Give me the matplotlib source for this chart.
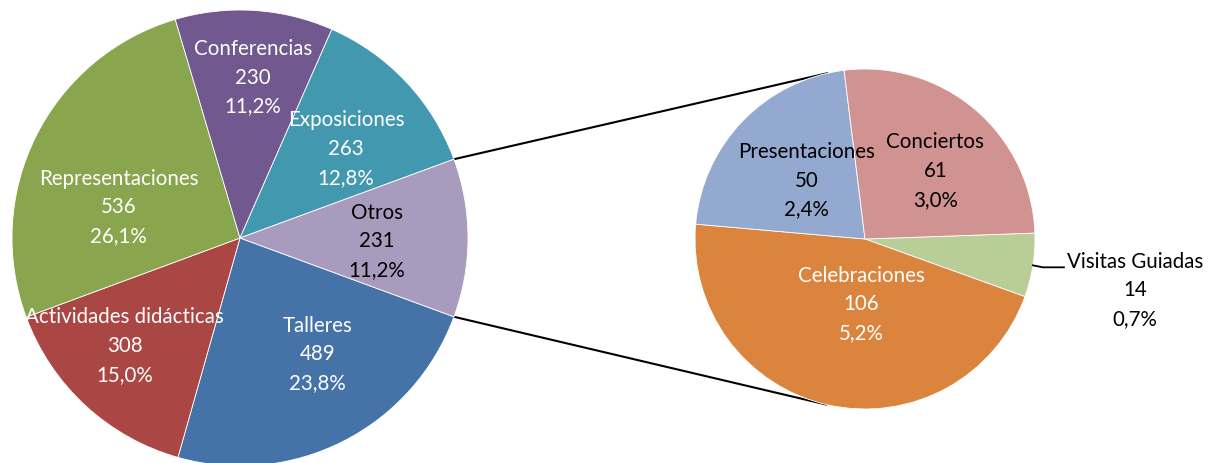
import numpy as np
import matplotlib.pyplot as plt

plt.rcParams['font.family'] = ['Lato', 'DejaVu Sans']

# main pie (clockwise, starting just below "Otros")
main_labels = ['Talleres', 'Actividades didácticas', 'Representaciones',
               'Conferencias', 'Exposiciones', 'Otros']
main_values = [489, 308, 536, 230, 263, 231]
main_colors = ['#4572A7', '#AA4643', '#89A54E', '#71588F', '#4198AF', '#A99BBD']
main_txt = ['white', 'white', 'white', 'white', 'white', 'black']

# breakdown of "Otros"
sub_labels = ['Visitas Guiadas', 'Celebraciones', 'Presentaciones', 'Conciertos']
sub_values = [14, 106, 50, 61]
sub_colors = ['#B9CD96', '#DB843D', '#93A9CF', '#D19392']
sub_txt = ['black', 'white', 'black', 'black']

total = sum(main_values)

# label placement: (radius fraction, angle shift in degrees)
main_lpos = [(0.61, 7), (0.69, -4.5), (0.55, 12), (0.71, -1), (0.61, -3), (0.60, -1)]
sub_lpos = [(None, 0), (0.38, 9), (0.49, -1.5), (0.58, -5)]

c1, r1 = (240, 225), 228
c2, r2 = (865, 224), 170
FS, LS = 14.8, 1.55

fig = plt.figure(figsize=(12.08, 4.64), dpi=100)
ax = fig.add_axes([0, 0, 1, 1])

half = 0.5 * 360.0 * main_values[-1] / total
w1, _ = ax.pie(main_values, colors=main_colors, startangle=-half, counterclock=False,
               center=c1, radius=r1, wedgeprops=dict(edgecolor='white', linewidth=0.6))
w2, _ = ax.pie(sub_values, colors=sub_colors, startangle=2, counterclock=False,
               center=c2, radius=r2, wedgeprops=dict(edgecolor='white', linewidth=0.6))


def lab(name, v):
    pct = f"{100.0 * v / total:.1f}".replace('.', ',')
    return f"{name}\n{v}\n{pct}%"


def place(wedges, labels, values, lpos, txtc, c, r):
    for w, n, v, (fr, da), tc in zip(wedges, labels, values, lpos, txtc):
        if fr is None:
            continue
        a = np.deg2rad(0.5 * (w.theta1 + w.theta2) + da)
        ax.text(c[0] + fr * r * np.cos(a), c[1] + fr * r * np.sin(a), lab(n, v),
                ha='center', va='center', color=tc, fontsize=FS, linespacing=LS)


place(w1, main_labels, main_values, main_lpos, main_txt, c1, r1)
place(w2, sub_labels, sub_values, sub_lpos, sub_txt, c2, r2)

# outside label for the small slice with a leader line
wv = w2[0]
a = np.deg2rad(0.5 * (wv.theta1 + wv.theta2))
ex, ey = c2[0] + r2 * np.cos(a), c2[1] + r2 * np.sin(a)
ax.plot([ex, ex + 10, ex + 31], [ey, ey - 2, ey - 2], color='black', lw=1.3)
ax.text(ex + 102, ey - 24, lab(sub_labels[0], sub_values[0]), ha='center', va='center',
        color='black', fontsize=FS, linespacing=LS)

# connector lines: tangents from the "Otros" edges to the second pie
for sgn in (1, -1):
    p = np.array(c1) + r1 * np.array([np.cos(np.deg2rad(half)), sgn * np.sin(np.deg2rad(half))])
    d = p - np.array(c2)
    dist = np.hypot(*d)
    base = np.arctan2(d[1], d[0])
    t = base - sgn * np.arccos(r2 / dist)
    q = np.array(c2) + r2 * np.array([np.cos(t), np.sin(t)])
    ax.plot([p[0], q[0]], [p[1], q[1]], color='black', lw=1.5, zorder=0)

ax.set_xlim(0, 1208)
ax.set_ylim(0, 464)
ax.set_aspect('equal')
ax.axis('off')
fig.savefig('out.png', dpi=100)
